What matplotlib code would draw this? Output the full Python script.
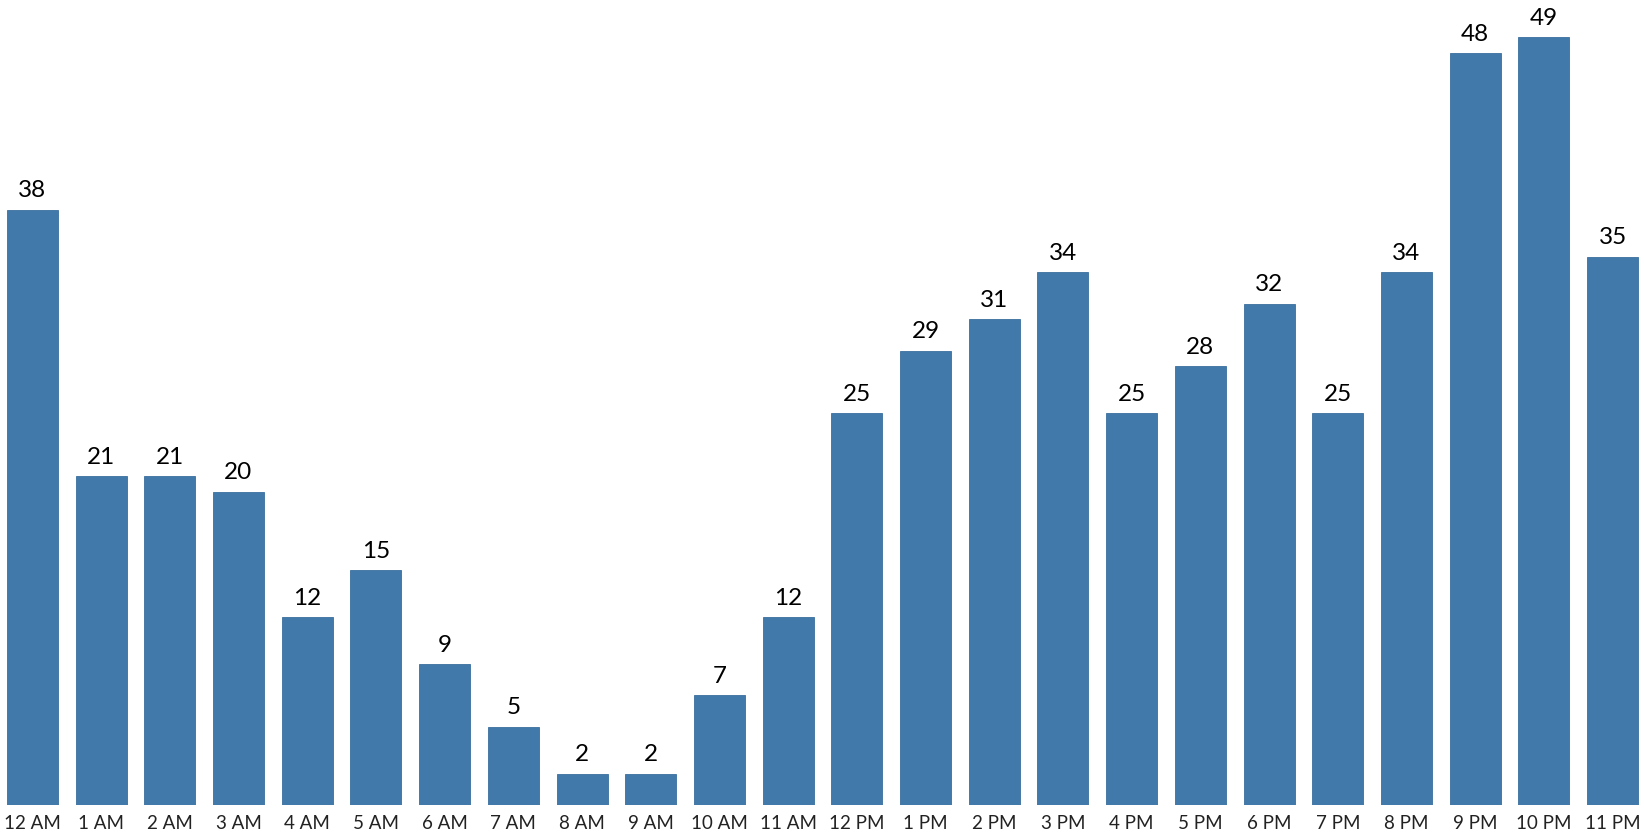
import matplotlib
matplotlib.use("Agg")
import matplotlib.pyplot as plt

hours = ["12 AM", "1 AM", "2 AM", "3 AM", "4 AM", "5 AM", "6 AM", "7 AM", "8 AM", "9 AM",
         "10 AM", "11 AM", "12 PM", "1 PM", "2 PM", "3 PM", "4 PM", "5 PM", "6 PM", "7 PM",
         "8 PM", "9 PM", "10 PM", "11 PM"]
counts = [38, 21, 21, 20, 12, 15, 9, 5, 2, 2, 7, 12, 25, 29, 31, 34, 25, 28, 32, 25, 34, 48, 49, 35]

plt.rcParams['font.family'] = ['Lato', 'DejaVu Sans']

fig = plt.figure(figsize=(16.44, 8.36), dpi=100)
ax = fig.add_axes([-2/1644, 31/836, 1649/1644, 805/836])
x = list(range(len(hours)))
bars = ax.bar(x, counts, width=0.742, color="#4079AA", edgecolor="#3A6F9E", linewidth=0.6)
for xi, v in zip(x, counts):
    ax.annotate(str(v), (xi, v), xytext=(0, 6), textcoords="offset points",
                ha="center", va="bottom", fontsize=17.5, color="black")
ax.set_xlim(-0.5, len(hours) - 0.5)
ax.set_ylim(0, 805/15.67)
ax.set_xticks(x)
ax.set_xticklabels(hours, fontsize=13.5, color="#222222")
ax.tick_params(axis="x", length=0, pad=7)
ax.set_yticks([])
for s in ax.spines.values():
    s.set_visible(False)
fig.savefig("out.png", dpi=100)
